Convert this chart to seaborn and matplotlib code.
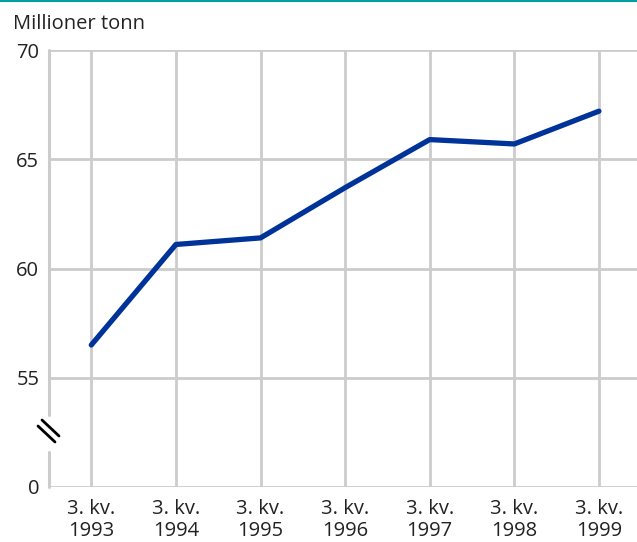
import matplotlib
matplotlib.use("Agg")
import matplotlib.pyplot as plt
import matplotlib.lines as mlines
import seaborn as sns
import pandas as pd

categories = ["3. kv.\n1993", "3. kv.\n1994", "3. kv.\n1995", "3. kv.\n1996",
              "3. kv.\n1997", "3. kv.\n1998", "3. kv.\n1999"]
values = [56.5, 61.1, 61.4, 63.7, 65.9, 65.7, 67.2]
ytick_values = [50, 55, 60, 65, 70]
ytick_labels = ["0", "55", "60", "65", "70"]
unit_label = "Millioner tonn"

sns.set_theme(style="white")
plt.rcParams['font.family'] = ['Open Sans', 'DejaVu Sans']

W, H = 637, 542
fig = plt.figure(figsize=(W / 100, H / 100), dpi=100)
ax = fig.add_axes([49 / W, 1 - 487 / H, (W - 49) / W, (487 - 50) / H])

df = pd.DataFrame({"x": range(len(categories)), "y": values})

grid_c = "#cccccc"
for i in range(len(categories)):
    ax.axvline(i, color=grid_c, lw=2, zorder=0)
for v in ytick_values:
    ax.axhline(v, color=grid_c, lw=2, zorder=0)

sns.lineplot(data=df, x="x", y="y", ax=ax, color="#003399", lw=3.8, zorder=3)

ax.set_xlim(-0.5, 6.45)
ax.set_ylim(50, 70)
ax.set_xticks(range(len(categories)))
ax.set_xticklabels(categories)
ax.set_yticks(ytick_values)
ax.set_yticklabels(ytick_labels)
ax.set_xlabel("")
ax.set_ylabel("")
for s in ax.spines.values():
    s.set_visible(False)
ax.tick_params(axis="both", length=0, labelsize=14.5, colors="#222222")
ax.tick_params(axis="x", pad=9)
ax.tick_params(axis="y", pad=7)
for t in ax.get_xticklabels():
    t.set_linespacing(1.08)

# left axis with break
ax.plot([-0.5, -0.5], [50, 51.6], color=grid_c, lw=2.2, clip_on=False, zorder=1)
ax.plot([-0.5, -0.5], [53.3, 70], color=grid_c, lw=2.2, clip_on=False, zorder=1)

# break marks
fig.add_artist(mlines.Line2D([42 / W, 59 / W], [1 - 420 / H, 1 - 436 / H], color="black", lw=2))
fig.add_artist(mlines.Line2D([38 / W, 55 / W], [1 - 426 / H, 1 - 442 / H], color="black", lw=2))

# top teal line
fig.add_artist(mlines.Line2D([0, 1], [1 - 1 / H, 1 - 1 / H], color="#00a0a0", lw=1.5))

fig.text(13 / W, 1 - 24 / H, unit_label, fontsize=14.5, color="#222222", va="center", ha="left")

fig.savefig("out.png", dpi=100)
